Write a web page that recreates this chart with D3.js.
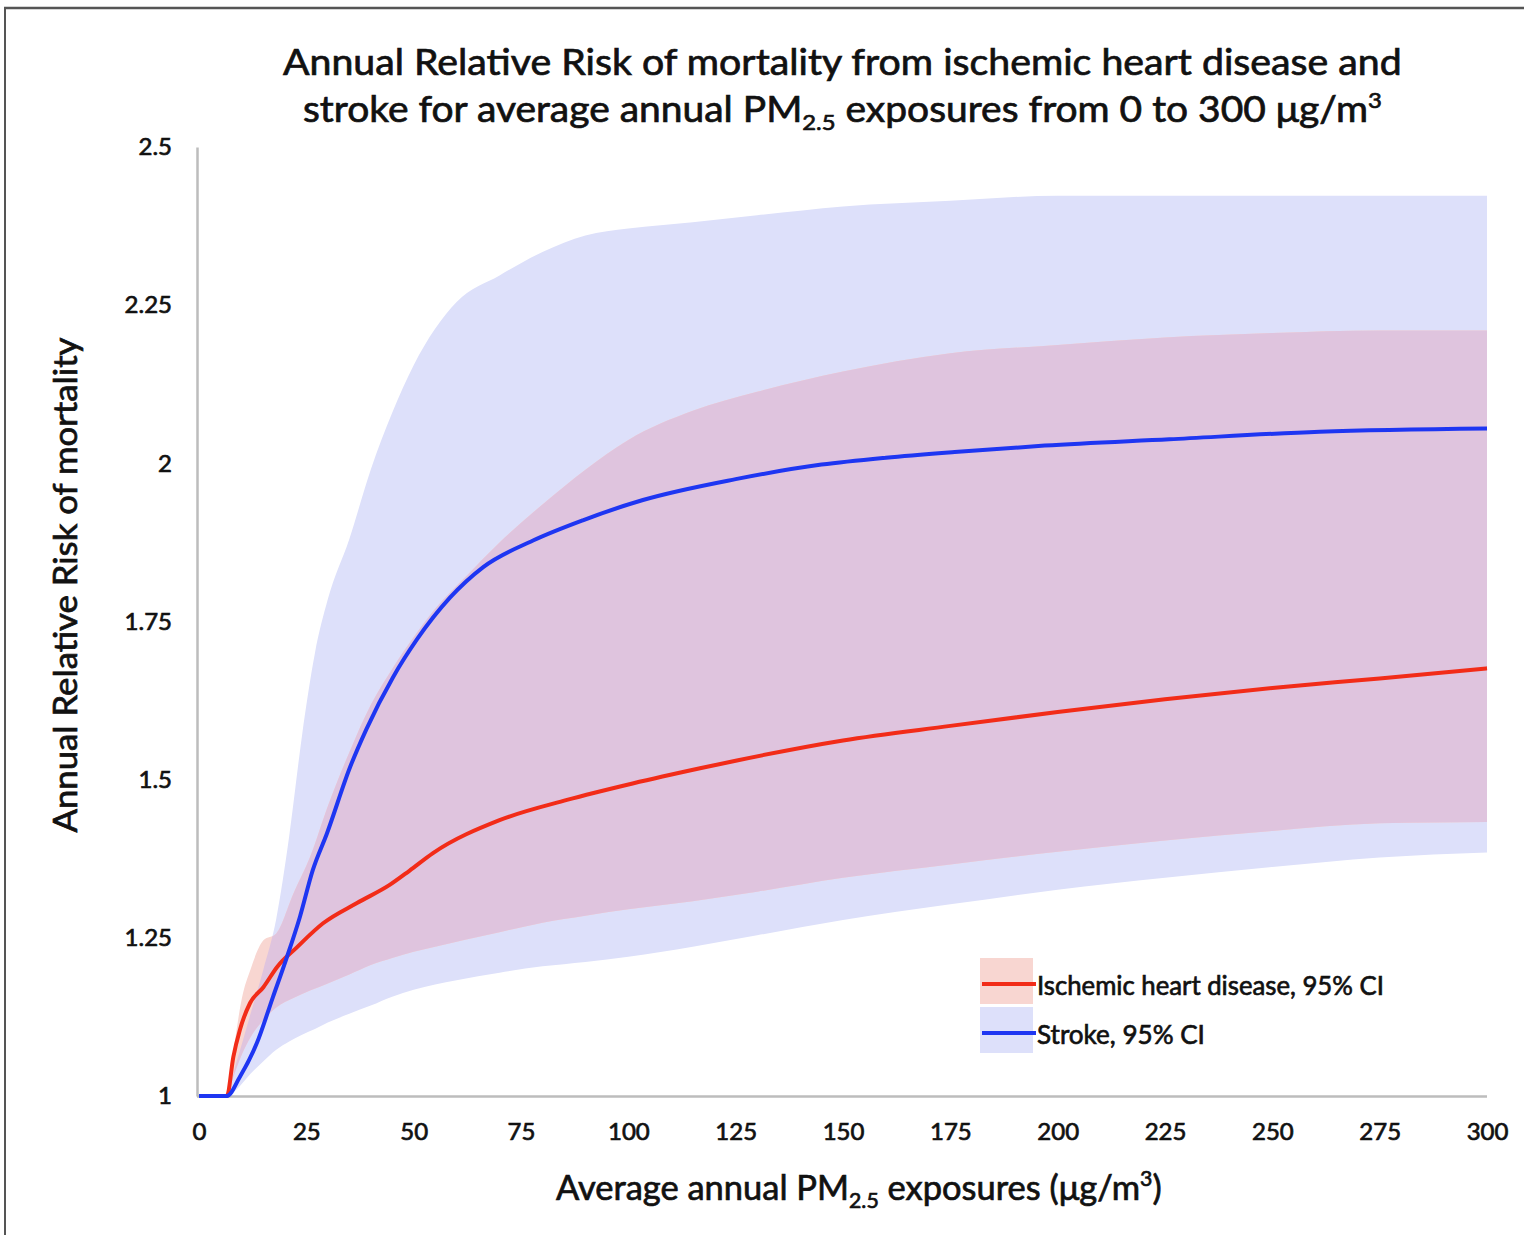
<!DOCTYPE html>
<html><head><meta charset="utf-8">
<script src="https://cdn.jsdelivr.net/npm/d3@7"></script>
<style>
body{margin:0;background:#fff}
svg{display:block}
text{font-family:Lato,"Open Sans",sans-serif;fill:#111;stroke:#111;stroke-width:0.7px}
</style>
</head><body>
<svg id="c" width="1524" height="1235"></svg>
<script>
// ---- data ----
const xTicks = [0,25,50,75,100,125,150,175,200,225,250,275,300];
const xTickLabels = ["0","25","50","75","100","125","150","175","200","225","250","275","300"];
const yTicks = [1,1.25,1.5,1.75,2,2.25,2.5];
const yTickLabels = ["1","1.25","1.5","1.75","2","2.25","2.5"];

// Stroke 95% CI band
const strokeBandX     = [0,6,9,12,15,18,21,24,27,30,35,40,45,50,60,70,80,90,100,115,130,150,175,200,225,250,275,300];
const strokeBandUpper = [1,1,1.06,1.13,1.2,1.28,1.41,1.57,1.7,1.785,1.88,1.99,2.08,2.155,2.255,2.297,2.334,2.36,2.371,2.381,2.392,2.406,2.415,2.423,2.423,2.423,2.423,2.423];
const strokeBandLower = [1,1,1.012,1.035,1.055,1.073,1.086,1.097,1.106,1.116,1.13,1.143,1.157,1.168,1.183,1.195,1.205,1.212,1.22,1.236,1.254,1.278,1.303,1.326,1.345,1.362,1.377,1.385];

// IHD 95% CI band
const ihdBandX     = [0,6.5,8,10,12,15,18,22,26,30,35,40,45,50,55,62,70,80,90,100,115,130,150,175,200,225,250,275,300];
const ihdBandUpper = [1,1,1.07,1.155,1.2,1.246,1.257,1.32,1.38,1.458,1.543,1.618,1.675,1.725,1.77,1.82,1.875,1.935,1.99,2.037,2.083,2.113,2.145,2.174,2.187,2.199,2.206,2.21,2.21];
const ihdBandLower = [1,1,1.03,1.066,1.093,1.12,1.14,1.155,1.167,1.178,1.192,1.207,1.218,1.228,1.236,1.247,1.259,1.274,1.285,1.295,1.308,1.323,1.345,1.366,1.386,1.404,1.419,1.431,1.433];

// central lines
const strokeX = [0,6.5,9.5,13.5,17.2,20.5,23.5,26.5,29.8,35.2,39,45.2,50.8,58.5,66.2,77.8,89.4,103.4,125,145,160,176,197,226,261,300];
const strokeY = [1,1,1.03,1.084,1.156,1.22,1.283,1.357,1.415,1.52,1.58,1.662,1.722,1.788,1.836,1.878,1.91,1.942,1.975,1.998,2.009,2.018,2.028,2.038,2.05,2.055];
const ihdX = [0,6.5,8,9.5,11.9,15,18.2,22.8,28.9,36.8,44.5,49,54.5,70,85.7,101,116.7,125,150,175,200,225,250,275,300];
const ihdY = [1,1,1.062,1.104,1.147,1.172,1.204,1.235,1.273,1.305,1.334,1.356,1.384,1.436,1.468,1.494,1.518,1.53,1.562,1.585,1.607,1.627,1.645,1.66,1.676];

const legendLabels = ["Ischemic heart disease, 95% CI","Stroke, 95% CI"];

// ---- styles ----
const C = {
  strokeBand:"#dde0fa", ihdBand:"#f8d6d1", overlap:"#dfc4de",
  strokeLine:"#1e36f2", ihdLine:"#f22c18", axis:"#bdbdbd"
};

const svg = d3.select("#c");
const x = d3.scaleLinear().domain([0,300]).range([199,1487]);
const y = d3.scaleLinear().domain([1,2.5]).range([1096,147]);

// frame
svg.append("line").attr("x1",4).attr("x2",1524).attr("y1",8).attr("y2",8).attr("stroke","#555").attr("stroke-width",2.5);
svg.append("line").attr("x1",5).attr("x2",5).attr("y1",8).attr("y2",1235).attr("stroke","#555").attr("stroke-width",2);

const bandArea = d3.area().x(d=>x(d[0])).y0(d=>y(d[1])).y1(d=>y(d[2])).curve(d3.curveMonotoneX);
const strokeBand = strokeBandX.map((v,i)=>[v,strokeBandLower[i],strokeBandUpper[i]]);
const ihdBand = ihdBandX.map((v,i)=>[v,ihdBandLower[i],ihdBandUpper[i]]);

svg.append("defs").append("clipPath").attr("id","sclip")
  .append("path").attr("d",bandArea(strokeBand));

svg.append("path").attr("d",bandArea(strokeBand)).attr("fill",C.strokeBand);
svg.append("path").attr("d",bandArea(ihdBand)).attr("fill",C.ihdBand);
svg.append("path").attr("d",bandArea(ihdBand)).attr("fill",C.overlap).attr("clip-path","url(#sclip)");

// axes
const xAxis = svg.append("g").attr("transform","translate(0,1096)")
  .call(d3.axisBottom(x).tickValues(xTicks).tickFormat((d,i)=>xTickLabels[i]).tickSize(0).tickPadding(27));
const yAxis = svg.append("g").attr("transform","translate(197,0)")
  .call(d3.axisLeft(y).tickValues(yTicks).tickFormat((d,i)=>yTickLabels[i]).tickSize(0).tickPadding(25));
[xAxis,yAxis].forEach(g=>{
  g.select(".domain").attr("stroke",C.axis).attr("stroke-width",2.5);
  g.selectAll("text").attr("font-family","Lato").attr("font-size",24).attr("fill","#111");
});
xAxis.select(".domain").attr("d",`M-2,0.5H1288`).attr("transform","translate(199,0)");

// lines
const line = d3.line().x(d=>x(d[0])).y(d=>y(d[1])).curve(d3.curveMonotoneX);
svg.append("path").attr("d",line(ihdX.map((v,i)=>[v,ihdY[i]]))).attr("fill","none")
  .attr("stroke",C.ihdLine).attr("stroke-width",4);
svg.append("path").attr("d",line(strokeX.map((v,i)=>[v,strokeY[i]]))).attr("fill","none")
  .attr("stroke",C.strokeLine).attr("stroke-width",4);

// helper to fit a text horizontally
function fitX(sel,left,right){
  const b = sel.node().getBBox();
  const s = (right-left)/b.width;
  sel.attr("transform",`translate(${left},0) scale(${s},1) translate(${-b.x},0)`);
}

// title
const t1 = svg.append("text").attr("x",0).attr("y",75).attr("font-size",36)
  .text("Annual Relative Risk of mortality from ischemic heart disease and");
fitX(t1,283,1402);
const t2 = svg.append("text").attr("x",0).attr("y",122).attr("font-size",36);
t2.append("tspan").text("stroke for average annual PM");
t2.append("tspan").attr("font-size",22).attr("dy",8).text("2.5");
t2.append("tspan").attr("dy",-8).text(" exposures from 0 to 300 μg/m");
t2.append("tspan").attr("font-size",22).attr("dy",-14).text("3");
fitX(t2,303,1382);

// x axis title
const xt = svg.append("text").attr("x",0).attr("y",1200).attr("font-size",34);
xt.append("tspan").text("Average annual PM");
xt.append("tspan").attr("font-size",21).attr("dy",8).text("2.5");
xt.append("tspan").attr("dy",-8).text(" exposures (μg/m");
xt.append("tspan").attr("font-size",21).attr("dy",-14).text("3");
xt.append("tspan").attr("dy",14).text(")");
fitX(xt,556,1162);

// y axis title
svg.append("text").attr("transform","translate(77,585) rotate(-90)")
  .attr("text-anchor","middle").attr("font-size",32)
  .attr("textLength",495).attr("lengthAdjust","spacingAndGlyphs")
  .text("Annual Relative Risk of mortality");

// legend
const lg = svg.append("g");
const lgItems = [
  {band:C.ihdBand,line:C.ihdLine,y:958},
  {band:C.strokeBand,line:C.strokeLine,y:1007}
];
lgItems.forEach((it,i)=>{
  lg.append("rect").attr("x",980).attr("y",it.y).attr("width",53).attr("height",46).attr("fill",it.band);
  lg.append("line").attr("x1",982).attr("x2",1036).attr("y1",it.y+26).attr("y2",it.y+26)
    .attr("stroke",it.line).attr("stroke-width",4);
  const tx = lg.append("text").attr("x",0).attr("y",it.y+37).attr("font-size",27).text(legendLabels[i]);
  fitX(tx,1037,i===0?1384:1205);
});
</script>
</body></html>
